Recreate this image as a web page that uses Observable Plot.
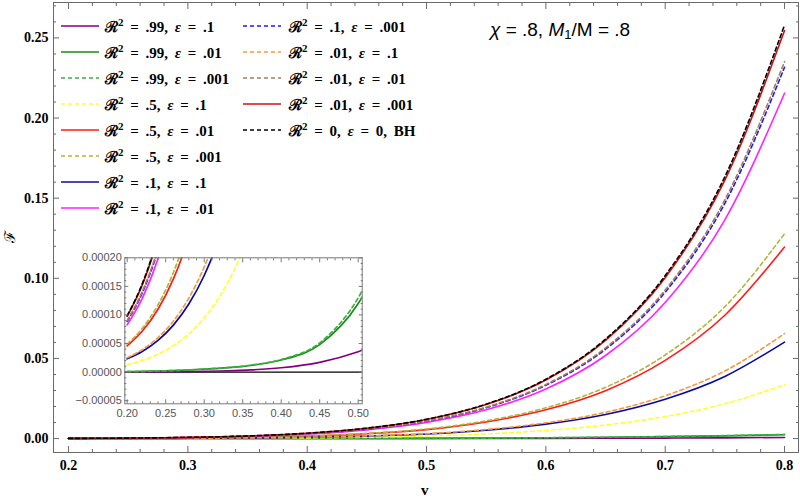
<!DOCTYPE html>
<html><head><meta charset="utf-8">
<script src="https://cdn.jsdelivr.net/npm/d3@7"></script>
<script src="https://cdn.jsdelivr.net/npm/@observablehq/plot@0.6"></script>
<style>
body{margin:0;background:#fff;}
#wrap{position:relative;width:800px;height:503px;overflow:hidden;background:#fff;}
#wrap svg{position:absolute;}
.lt{position:absolute;font-family:"Liberation Serif",serif;font-weight:bold;font-size:15px;word-spacing:3px;white-space:nowrap;line-height:16px;}
.lt sup{font-size:11px;line-height:0;vertical-align:6px;}
.title{position:absolute;font-family:"Liberation Sans",Arial,sans-serif;font-size:19px;white-space:nowrap;line-height:19px;}
</style></head><body><div id="wrap"></div>
<script>
// ---------- data ----------
const v = [0.20,0.22,0.24,0.26,0.28,0.30,0.32,0.34,0.36,0.40,0.45,0.50,0.55,0.60,0.65,0.70,0.75,0.80];

const f_R99_e1   = [2e-7,3e-7,4e-7,5e-7,8e-7,1.2e-6,1.8e-6,2.6e-6,3.7e-6,7.5e-6,1.7e-5,3.55e-5,6.4e-5,1.1e-4,1.8e-4,2.85e-4,4.5e-4,7.0e-4];
const f_R99_e01  = [8e-7,1.2e-6,1.8e-6,2.5e-6,3.6e-6,5.0e-6,6.5e-6,8.5e-6,1.15e-5,2.1e-5,4.8e-5,1.2e-4,2.6e-4,4.7e-4,7.7e-4,1.18e-3,1.7e-3,2.4e-3];
const f_R99_e001 = [8e-7,1.2e-6,1.8e-6,2.6e-6,3.7e-6,5.2e-6,6.8e-6,8.9e-6,1.2e-5,2.2e-5,5.1e-5,1.3e-4,2.8e-4,5.1e-4,8.3e-4,1.27e-3,1.83e-3,2.58e-3];
const f_R5_e1    = [1.29e-5,2.04e-5,3.10e-5,4.60e-5,6.66e-5,9.46e-5,1.321e-4,1.817e-4,2.464e-4,4.38e-4,8.51e-4,1.575e-3,2.915e-3,5.055e-3,8.425e-3,1.375e-2,2.170e-2,3.37e-2];
const f_R5_e01   = [4.58e-5,7.22e-5,1.099e-4,1.630e-4,2.362e-4,3.356e-4,4.686e-4,6.44e-4,8.74e-4,1.553e-3,3.018e-3,5.586e-3,1.034e-2,1.793e-2,2.988e-2,4.876e-2,7.696e-2,0.1195];
const f_R5_e001  = [4.89e-5,7.72e-5,1.176e-4,1.743e-4,2.527e-4,3.589e-4,5.011e-4,6.89e-4,9.34e-4,1.661e-3,3.227e-3,5.974e-3,1.105e-2,1.917e-2,3.195e-2,5.214e-2,8.230e-2,0.1278];
const f_R1_e1    = [2.31e-5,3.64e-5,5.54e-5,8.21e-5,1.190e-4,1.690e-4,2.360e-4,3.25e-4,4.40e-4,7.82e-4,1.520e-3,2.814e-3,5.207e-3,9.030e-3,1.505e-2,2.456e-2,3.877e-2,0.0602];
const f_R1_e01   = [8.25e-5,1.302e-4,1.983e-4,2.939e-4,4.260e-4,6.051e-4,8.450e-4,1.162e-3,1.576e-3,2.800e-3,5.442e-3,1.007e-2,1.793e-2,3.091e-2,5.184e-2,8.496e-2,0.1365,0.2155];
const f_R1_e001  = [8.87e-5,1.399e-4,2.132e-4,3.160e-4,4.581e-4,6.506e-4,9.085e-4,1.249e-3,1.694e-3,3.011e-3,5.851e-3,1.083e-2,1.928e-2,3.323e-2,5.574e-2,9.135e-2,0.1468,0.2317];
const f_R01_e1   = [2.51e-5,3.96e-5,6.03e-5,8.93e-5,1.295e-4,1.839e-4,2.568e-4,3.53e-4,4.79e-4,8.51e-4,1.654e-3,3.062e-3,5.666e-3,9.825e-3,1.638e-2,2.672e-2,4.218e-2,0.0655];
const f_R01_e01  = [9.01e-5,1.421e-4,2.164e-4,3.208e-4,4.650e-4,6.604e-4,9.222e-4,1.268e-3,1.720e-3,3.056e-3,5.939e-3,1.099e-2,1.957e-2,3.373e-2,5.658e-2,9.273e-2,0.1490,0.2352];
const f_R01_e001 = [9.75e-5,1.538e-4,2.342e-4,3.473e-4,5.033e-4,7.149e-4,9.983e-4,1.373e-3,1.862e-3,3.308e-3,6.429e-3,1.190e-2,2.119e-2,3.651e-2,6.125e-2,0.1004,0.1613,0.2546];
const f_BH       = [9.88e-5,1.558e-4,2.374e-4,3.519e-4,5.101e-4,7.245e-4,1.012e-3,1.391e-3,1.887e-3,3.352e-3,6.515e-3,1.206e-2,2.147e-2,3.700e-2,6.206e-2,0.1017,0.1634,0.2580];

const R2  = [".99",".99",".99",".5",".5",".5",".1",".1",".1",".01",".01",".01","0"];
const eps = [".1",".01",".001",".1",".01",".001",".1",".01",".001",".1",".01",".001","0"];
const extra = ["","","","","","","","","","","","",", BH"];
const seriesData = [f_R99_e1,f_R99_e01,f_R99_e001,f_R5_e1,f_R5_e01,f_R5_e001,f_R1_e1,f_R1_e01,f_R1_e001,f_R01_e1,f_R01_e01,f_R01_e001,f_BH];

const xTicksMain = [0.2,0.3,0.4,0.5,0.6,0.7,0.8];
const yTicksMain = [0,0.05,0.10,0.15,0.20,0.25];
const xTicksInset = [0.20,0.25,0.30,0.35,0.40,0.45,0.50];
const yTicksInset = [-0.00005,0,0.00005,0.00010,0.00015,0.00020];
const titleText = {chi: ".8", m1: ".8"};

// ---------- styles ----------
const DASH = "4,3";
const sty = [
  {c:"#800080", d:null},
  {c:"#1c8a1c", d:null},
  {c:"#3cb03c", d:DASH},
  {c:"#ffff33", d:DASH},
  {c:"#ff1a1a", d:null},
  {c:"#b4b43a", d:DASH},
  {c:"#0a0aa0", d:null},
  {c:"#ff22ff", d:null},
  {c:"#1a1aff", d:DASH},
  {c:"#f59a3c", d:DASH},
  {c:"#a87c58", d:DASH},
  {c:"#d01010", d:null},
  {c:"#000000", d:DASH}
];

const tables = seriesData.map(arr => arr.map((f,j) => ({v: v[j], f})));

function lineMarks(sw, clip){
  return tables.map((t,i) => Plot.line(t, {x:"v", y:"f", stroke: sty[i].c, strokeWidth: sw,
    strokeDasharray: sty[i].d || undefined, curve:"monotone-x", clip}));
}

const wrap = document.getElementById("wrap");

// ---------- main plot ----------
const xMinor = d3.range(0.2, 0.801, 0.02).filter(t => Math.abs(t*10 - Math.round(t*10)) > 1e-6);
const yMinor = d3.range(0, 0.2705, 0.01).filter(t => Math.abs(t*20 - Math.round(t*20)) > 1e-6);
const FR = "#6a6a6a";
const main = Plot.plot({
  width: 800, height: 503,
  marginLeft: 53, marginRight: 2, marginTop: 2, marginBottom: 51,
  x: {domain: [0.1874, 0.8117]},
  y: {domain: [-0.0087, 0.2721]},
  style: {fontFamily: "Liberation Serif, serif", fontWeight: "bold", fontSize: "14px", background: "transparent"},
  marks: [
    ...lineMarks(1.6, false),
    Plot.frame({stroke: FR}),
    Plot.axisX(xTicksMain, {anchor:"bottom", tickSize:0, tickPadding:8, tickFormat: d => d.toFixed(1), label:null, fontSize:14}),
    Plot.axisX(xTicksMain, {anchor:"bottom", tickSize:-6, tickFormat: () => "", label:null, stroke:FR}),
    Plot.axisX(xMinor, {anchor:"bottom", tickSize:-3, tickFormat: () => "", label:null, stroke:FR}),
    Plot.axisX(xTicksMain, {anchor:"top", tickSize:-6, tickFormat: () => "", label:null, stroke:FR}),
    Plot.axisX(xMinor, {anchor:"top", tickSize:-3, tickFormat: () => "", label:null, stroke:FR}),
    Plot.axisY(yTicksMain, {anchor:"left", tickSize:0, tickPadding:5, tickFormat: d => d.toFixed(2), label:null, fontSize:14}),
    Plot.axisY(yTicksMain, {anchor:"left", tickSize:-6, tickFormat: () => "", label:null, stroke:FR}),
    Plot.axisY(yMinor, {anchor:"left", tickSize:-3, tickFormat: () => "", label:null, stroke:FR}),
    Plot.axisY(yTicksMain, {anchor:"right", tickSize:-6, tickFormat: () => "", label:null, stroke:FR}),
    Plot.axisY(yMinor, {anchor:"right", tickSize:-3, tickFormat: () => "", label:null, stroke:FR})
  ]
});
main.style.left = "0px"; main.style.top = "0px";
wrap.appendChild(main);

// ---------- inset ----------
const ixMinor = d3.range(0.20, 0.5001, 0.01).filter(t => Math.abs(t*20 - Math.round(t*20)) > 1e-6);
const iyMinor = d3.range(-0.00005, 0.00020001, 0.00001).filter(t => Math.abs(t/0.00005 - Math.round(t/0.00005)) > 1e-6);
const IFR = "#777";
const inset = Plot.plot({
  width: 300, height: 175,
  marginLeft: 54.3, marginRight: 8.3, marginTop: 7.3, marginBottom: 21.7,
  x: {domain: [0.1969, 0.5052]},
  y: {domain: [-0.0000556, 0.0002]},
  style: {fontFamily: "Liberation Sans, Arial, sans-serif", fontSize: "11px", fontWeight: "normal", background: "transparent"},
  marks: [
    Plot.rect([0], {x1: 0.1969, x2: 0.5052, y1: -0.0000556, y2: 0.0002, fill: "white"}),
    Plot.ruleY([0], {stroke: "black", strokeWidth: 1.2}),
    ...lineMarks(1.7, true),
    Plot.frame({stroke: IFR}),
    Plot.axisX(xTicksInset, {anchor:"bottom", tickSize:0, tickPadding:5, tickFormat: d => d.toFixed(2), label:null, fill:"#555", fontSize:11}),
    Plot.axisX(xTicksInset, {anchor:"bottom", tickSize:-4, tickFormat: () => "", label:null, stroke:IFR}),
    Plot.axisX(ixMinor, {anchor:"bottom", tickSize:-2, tickFormat: () => "", label:null, stroke:IFR}),
    Plot.axisX(xTicksInset, {anchor:"top", tickSize:-4, tickFormat: () => "", label:null, stroke:IFR}),
    Plot.axisX(ixMinor, {anchor:"top", tickSize:-2, tickFormat: () => "", label:null, stroke:IFR}),
    Plot.axisY(yTicksInset, {anchor:"left", tickSize:0, tickPadding:3, tickFormat: d => (d < 0 ? "\u2212" : "") + Math.abs(d).toFixed(5), label:null, fill:"#555", fontSize:11}),
    Plot.axisY(yTicksInset, {anchor:"left", tickSize:-4, tickFormat: () => "", label:null, stroke:IFR}),
    Plot.axisY(iyMinor, {anchor:"left", tickSize:-2, tickFormat: () => "", label:null, stroke:IFR}),
    Plot.axisY(yTicksInset, {anchor:"right", tickSize:-4, tickFormat: () => "", label:null, stroke:IFR}),
    Plot.axisY(iyMinor, {anchor:"right", tickSize:-2, tickFormat: () => "", label:null, stroke:IFR})
  ]
});
inset.style.left = "70px"; inset.style.top = "250px";
wrap.appendChild(inset);

// ---------- legend ----------
const ns = "http://www.w3.org/2000/svg";
R2.forEach((r, i) => {
  const col = i < 8 ? 0 : 1;
  const row = i < 8 ? i : i - 8;
  const cy = 25.7 + 26 * row;
  const sx = col === 0 ? 61 : 243;
  const tx = col === 0 ? 105 : 289;
  const s = document.createElementNS(ns, "svg");
  s.setAttribute("width", 40); s.setAttribute("height", 6);
  s.style.left = sx + "px"; s.style.top = (cy - 3) + "px";
  const ln = document.createElementNS(ns, "line");
  ln.setAttribute("x1", 0); ln.setAttribute("x2", 38); ln.setAttribute("y1", 3); ln.setAttribute("y2", 3);
  ln.setAttribute("stroke", sty[i].c); ln.setAttribute("stroke-width", 1.6);
  if (sty[i].d) ln.setAttribute("stroke-dasharray", sty[i].d);
  s.appendChild(ln);
  wrap.appendChild(s);
  const t = document.createElement("div");
  t.className = "lt";
  t.style.left = tx + "px"; t.style.top = (cy - 7) + "px";
  t.innerHTML = `ℛ<sup>2</sup> = ${r}, <i>ε</i> = ${eps[i]}${extra[i]}`;
  wrap.appendChild(t);
});

// ---------- title and axis labels ----------
const title = document.createElement("div");
title.className = "title";
title.style.left = "490px"; title.style.top = "20px";
title.innerHTML = `<i>χ</i> = ${titleText.chi}, <i>M</i><sub style="font-size:13px;vertical-align:-3px;line-height:0">1</sub>/M = ${titleText.m1}`;
wrap.appendChild(title);

const xl = document.createElement("div");
xl.style.cssText = "position:absolute;left:421px;top:481px;font-family:'Liberation Serif',serif;font-weight:bold;font-size:15px;line-height:18px;";
xl.textContent = "v";
wrap.appendChild(xl);

const yl = document.createElement("div");
yl.style.cssText = "position:absolute;left:4px;top:228px;font-family:'DejaVu Serif',serif;font-size:15px;line-height:18px;transform:rotate(-90deg);transform-origin:50% 50%;";
yl.textContent = "ℱ";
wrap.appendChild(yl);
</script>
</body></html>
